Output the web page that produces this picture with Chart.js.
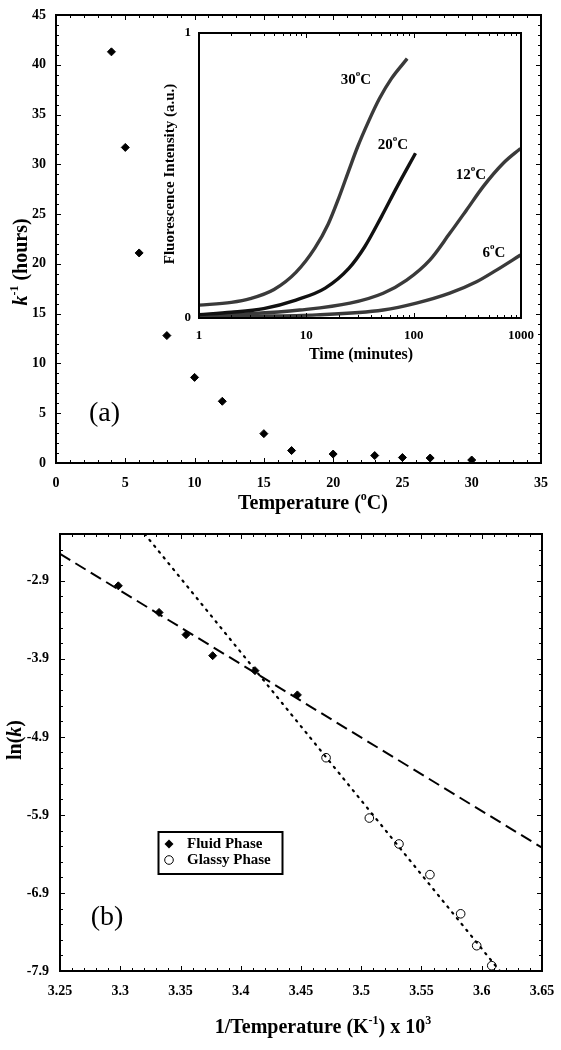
<!DOCTYPE html>
<html>
<head>
<meta charset="utf-8">
<script src="https://cdn.jsdelivr.net/npm/chart.js@4.4.1/dist/chart.umd.min.js"></script>
<style>
  body { margin: 0; background: #fff; width: 561px; height: 1050px; position: relative; overflow: hidden; }
  canvas { position: absolute; }
  #chartA { left: 0; top: 0; }
  #inset { left: 150px; top: 20px; }
  #chartB { left: 0; top: 525px; }
</style>
</head>
<body>
<canvas id="chartA" width="561" height="525"></canvas>
<canvas id="inset" width="385" height="350"></canvas>
<canvas id="chartB" width="561" height="525"></canvas>
<script>
// (a) k^-1 vs temperature
const tempA = [4, 5, 6, 8, 10, 12, 15, 17, 20, 23, 25, 27, 30];
const invRate = [41.3, 31.7, 21.1, 12.8, 8.6, 6.2, 2.95, 1.25, 0.9, 0.75, 0.55, 0.5, 0.3];
const ticksAX = [0, 5, 10, 15, 20, 25, 30, 35];
const ticksAY = [0, 5, 10, 15, 20, 25, 30, 35, 40, 45];

// inset: fluorescence curves
const time30 = [1, 2, 3, 5, 8, 12, 16, 20, 25, 30, 38, 48, 62, 87];
const fluo30 = [0.045, 0.055, 0.068, 0.1, 0.16, 0.245, 0.33, 0.42, 0.52, 0.6, 0.69, 0.77, 0.84, 0.91];
const time20 = [1, 2, 4, 8, 15, 25, 35, 50, 70, 104];
const fluo20 = [0.012, 0.02, 0.033, 0.063, 0.105, 0.175, 0.25, 0.355, 0.46, 0.578];
const time12 = [1, 3, 8.7, 25.5, 52, 86, 142, 217, 311, 444, 683, 990];
const fluo12 = [0.008, 0.015, 0.028, 0.052, 0.087, 0.133, 0.204, 0.297, 0.379, 0.461, 0.543, 0.595];
const time6 = [1, 3, 12.5, 52, 106, 217, 385, 591, 990];
const fluo6 = [0.004, 0.006, 0.011, 0.028, 0.052, 0.087, 0.127, 0.168, 0.221];
const curveNames = ['30', '20', '12', '6'];
const ticksInsetX = [1, 10, 100, 1000];
const ticksInsetY = [0, 1];

// (b) Arrhenius plot
const fluidX = [3.2984, 3.3322, 3.3546, 3.3767, 3.4118, 3.4470];
const fluidY = [-2.964, -3.305, -3.59, -3.859, -4.051, -4.362];
const glassyX = [3.4708, 3.5067, 3.5313, 3.557, 3.5825, 3.5958, 3.6083];
const glassyY = [-5.167, -5.94, -6.272, -6.665, -7.167, -7.576, -7.832];
const fluidFitX = [3.25, 3.65];
const fluidFitY = [-2.555, -6.32];
const glassyFitX = [3.3203, 3.615];
const glassyFitY = [-2.3, -7.9];
const ticksBX = [3.25, 3.3, 3.35, 3.4, 3.45, 3.5, 3.55, 3.6, 3.65];
const ticksBY = [-7.9, -6.9, -5.9, -4.9, -3.9, -2.9];

const serif = '"Liberation Serif", "Times New Roman", serif';
const bold = (px) => `bold ${px}px ${serif}`;
const boldIt = (px) => `italic bold ${px}px ${serif}`;

const toPts = (xs, ys) => xs.map((x, i) => ({ x, y: ys[i] }));

function range(a, b, step) {
  const out = [];
  for (let v = a; v <= b + step / 1000; v += step) out.push(+v.toFixed(4));
  return out;
}

// text with mixed fonts / superscripts, centred on (x, y)
function rich(ctx, parts, x, y, rot) {
  ctx.save();
  ctx.translate(x, y);
  if (rot) ctx.rotate(rot);
  ctx.textBaseline = 'middle';
  ctx.textAlign = 'left';
  ctx.fillStyle = '#000';
  let w = 0;
  parts.forEach((p) => { ctx.font = p.f; p.w = ctx.measureText(p.t).width; w += p.w; });
  let cx = -w / 2;
  parts.forEach((p) => { ctx.font = p.f; ctx.fillText(p.t, cx, p.dy || 0); cx += p.w; });
  ctx.restore();
}

// box around the plot with inward tick marks on all four sides
const makeFrame = (cfg) => ({
  id: 'frame',
  afterDatasetsDraw(chart) {
    const { ctx, chartArea: a, scales: { x, y } } = chart;
    ctx.save();
    ctx.strokeStyle = '#000';
    ctx.lineWidth = 1;
    ctx.beginPath();
    const markX = (vals, len) => vals.forEach((v) => {
      const p = Math.round(x.getPixelForValue(v)) + 0.5;
      ctx.moveTo(p, a.bottom); ctx.lineTo(p, a.bottom - len);
      ctx.moveTo(p, a.top); ctx.lineTo(p, a.top + len);
    });
    const markY = (vals, len) => vals.forEach((v) => {
      const p = Math.round(y.getPixelForValue(v)) + 0.5;
      ctx.moveTo(a.left, p); ctx.lineTo(a.left + len, p);
      ctx.moveTo(a.right, p); ctx.lineTo(a.right - len, p);
    });
    markX(cfg.xMajor, 5); markX(cfg.xMinor, 3);
    markY(cfg.yMajor, 5); markY(cfg.yMinor, 3);
    ctx.stroke();
    ctx.lineWidth = 2;
    ctx.strokeRect(a.left, a.top, a.right - a.left, a.bottom - a.top);
    ctx.restore();
    if (cfg.text) cfg.text(chart);
  },
});

const fixedTicks = (vals) => (s) => { s.ticks = vals.map((v) => ({ value: v })); };

function axis(opts) {
  return {
    type: opts.type || 'linear',
    min: opts.min,
    max: opts.max,
    grid: { display: false, drawTicks: false },
    border: { display: false },
    afterBuildTicks: fixedTicks(opts.ticks),
    afterFit: (s) => {
      if (opts.width) s.width = opts.width;
      if (opts.height) s.height = opts.height;
      // the layout padding already leaves room for end labels
      s.paddingTop = s.paddingBottom = s.paddingLeft = s.paddingRight = 0;
    },
    ticks: {
      padding: opts.pad,
      color: '#000',
      font: { family: serif, weight: 'bold', size: opts.size || 14 },
      maxRotation: 0,
      autoSkip: false,
      callback: opts.fmt || ((v) => String(v)),
    },
  };
}

const base = {
  responsive: false,
  animation: false,
  events: [],
  plugins: { legend: { display: false }, tooltip: { enabled: false } },
};

// ---------- chart (a) ----------
new Chart(document.getElementById('chartA'), {
  type: 'scatter',
  data: {
    datasets: [{
      data: toPts(tempA, invRate),
      pointStyle: 'rectRot',
      pointRadius: 4,
      borderWidth: 1,
      backgroundColor: '#000',
      borderColor: '#000',
    }],
  },
  options: {
    ...base,
    layout: { padding: { top: 15, right: 20, left: 0, bottom: 0 } },
    scales: {
      x: axis({ min: 0, max: 35, ticks: ticksAX, pad: 12, height: 62 }),
      y: axis({ min: 0, max: 45, ticks: ticksAY, pad: 10, width: 56 }),
    },
  },
  plugins: [makeFrame({
    xMajor: ticksAX, xMinor: range(0, 35, 1),
    yMajor: ticksAY, yMinor: range(0, 45, 1),
    text: (chart) => {
      const { ctx, scales: { x, y } } = chart;
      rich(ctx, [{ t: 'k', f: boldIt(20) }, { t: '-1', f: bold(12), dy: -7 }, { t: ' (hours)', f: bold(20) }], 22, 262, -Math.PI / 2);
      rich(ctx, [{ t: 'Temperature (', f: bold(20) }, { t: 'o', f: bold(12), dy: -7 }, { t: 'C)', f: bold(20) }], 313, 504);
      rich(ctx, [{ t: '(a)', f: `28px ${serif}` }], x.getPixelForValue(3.5), y.getPixelForValue(5));
    },
  })],
});

// ---------- inset ----------
// [time, intensity, outline colour, core colour]
const curves = [
  [time30, fluo30, '#3a3a3a', '#b4b4b4'],
  [time20, fluo20, '#111', '#444'],
  [time12, fluo12, '#3a3a3a', '#b4b4b4'],
  [time6, fluo6, '#3a3a3a', '#b4b4b4'],
];
const insetSets = [];
curves.forEach(([t, f, edge, core]) => {
  const pts = toPts(t, f);
  insetSets.push({ type: 'line', data: pts, borderColor: edge, borderWidth: 3.4, pointRadius: 0, cubicInterpolationMode: 'monotone' });
  insetSets.push({ type: 'line', data: pts, borderColor: core, borderWidth: 1.5, pointRadius: 0, cubicInterpolationMode: 'monotone' });
});
// label anchor for each curve, in data units (time, intensity)
const curveLabelAt = [[29, 0.835], [64, 0.607], [341, 0.502], [558, 0.228]];

const insetMinor = [];
[1, 10, 100].forEach((d) => { for (let k = 2; k <= 9; k++) insetMinor.push(k * d); });

new Chart(document.getElementById('inset'), {
  type: 'scatter',
  data: { datasets: insetSets },
  options: {
    ...base,
    layout: { padding: { top: 13, right: 14, left: 0, bottom: 0 } },
    scales: {
      x: axis({ type: 'logarithmic', min: 1, max: 1000, ticks: ticksInsetX, pad: 10, height: 52, size: 13 }),
      y: axis({ min: 0, max: 1, ticks: ticksInsetY, pad: 8, width: 49, size: 13 }),
    },
  },
  plugins: [makeFrame({
    xMajor: ticksInsetX, xMinor: insetMinor,
    yMajor: [], yMinor: [],
    text: (chart) => {
      const { ctx, scales: { x, y } } = chart;
      rich(ctx, [{ t: 'Fluorescence Intensity (a.u.)', f: bold(15) }], 20, 154, -Math.PI / 2);
      rich(ctx, [{ t: 'Time (minutes)', f: bold(16) }], 211, 335);
      curveNames.forEach((n, i) => {
        const [tx, ty] = curveLabelAt[i];
        rich(ctx, [{ t: n, f: bold(15) }, { t: 'o', f: bold(9), dy: -6 }, { t: 'C', f: bold(15) }],
          x.getPixelForValue(tx), y.getPixelForValue(ty));
      });
    },
  })],
});

// ---------- chart (b) ----------
new Chart(document.getElementById('chartB'), {
  type: 'scatter',
  data: {
    datasets: [
      {
        label: 'Fluid Phase',
        data: toPts(fluidX, fluidY),
        pointStyle: 'rectRot', pointRadius: 4, borderWidth: 1,
        backgroundColor: '#000', borderColor: '#000',
      },
      {
        label: 'Glassy Phase',
        data: toPts(glassyX, glassyY),
        pointStyle: 'circle', pointRadius: 4.3, borderWidth: 1,
        backgroundColor: 'rgba(0,0,0,0)', borderColor: '#000',
      },
      {
        type: 'line', data: toPts(fluidFitX, fluidFitY),
        borderColor: '#000', borderWidth: 2, borderDash: [12, 6], pointRadius: 0,
      },
      {
        type: 'line', data: toPts(glassyFitX, glassyFitY),
        borderColor: '#000', borderWidth: 2.2, borderDash: [1.5, 6], borderCapStyle: 'round', pointRadius: 0,
      },
    ],
  },
  options: {
    ...base,
    layout: { padding: { top: 9, right: 19, left: 0, bottom: 0 } },
    scales: {
      x: axis({ min: 3.25, max: 3.65, ticks: ticksBX, pad: 12, height: 79, fmt: (v) => String(+v.toFixed(2)) }),
      y: axis({ min: -7.9, max: -2.3, ticks: ticksBY, pad: 11, width: 60, fmt: (v) => v.toFixed(1) }),
    },
  },
  plugins: [makeFrame({
    xMajor: ticksBX, xMinor: range(3.25, 3.65, 0.01),
    yMajor: ticksBY, yMinor: range(-7.9, -2.3, 0.2),
    text: (chart) => {
      const { ctx, chartArea: a, scales: { x, y } } = chart;
      rich(ctx, [{ t: 'ln(', f: bold(20) }, { t: 'k', f: boldIt(20) }, { t: ')', f: bold(20) }], 16, 215, -Math.PI / 2);
      rich(ctx, [
        { t: '1/Temperature (K', f: bold(20) }, { t: '-1', f: bold(12), dy: -7 },
        { t: ') x 10', f: bold(20) }, { t: '3', f: bold(12), dy: -7 },
      ], 323, 503);
      rich(ctx, [{ t: '(b)', f: `28px ${serif}` }], x.getPixelForValue(3.289), y.getPixelForValue(-7.22));

      // legend box
      const lx = a.left + 98.5, ly = a.top + 298;
      ctx.save();
      ctx.fillStyle = '#fff';
      ctx.fillRect(lx, ly, 124, 42);
      ctx.lineWidth = 2;
      ctx.strokeStyle = '#000';
      ctx.strokeRect(lx, ly, 124, 42);
      chart.data.datasets.slice(0, 2).forEach((ds, i) => {
        const my = ly + 12 + i * 16;
        const mx = lx + 10.5;
        ctx.beginPath();
        if (ds.pointStyle === 'rectRot') {
          ctx.moveTo(mx, my - 4.5); ctx.lineTo(mx + 4.5, my); ctx.lineTo(mx, my + 4.5); ctx.lineTo(mx - 4.5, my);
          ctx.closePath();
          ctx.fillStyle = '#000';
          ctx.fill();
        } else {
          ctx.arc(mx, my, 4.3, 0, Math.PI * 2);
          ctx.lineWidth = 1;
          ctx.stroke();
        }
        ctx.font = bold(15);
        ctx.fillStyle = '#000';
        ctx.textBaseline = 'middle';
        ctx.fillText(ds.label, lx + 28.5, my);
      });
      ctx.restore();
    },
  })],
});
</script>
</body>
</html>
